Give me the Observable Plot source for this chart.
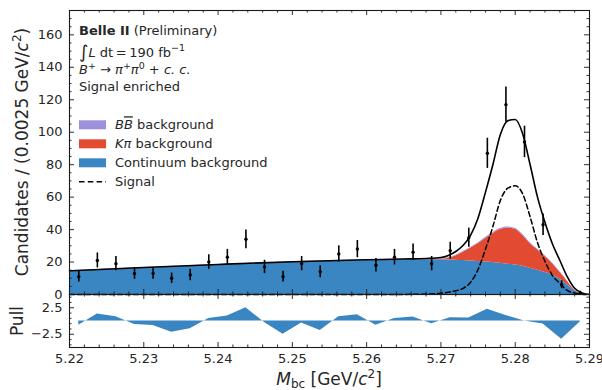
<!DOCTYPE html>
<html><head><meta charset="utf-8">
<script src="https://cdn.jsdelivr.net/npm/d3@7"></script>
<script src="https://cdn.jsdelivr.net/npm/@observablehq/plot@0.6"></script>
<style>
body{margin:0;background:#fff;}
#chart{width:602px;height:390px;}
#chart svg{display:block;overflow:visible;}
</style></head><body><div id="chart"></div>
<script>
// ---- data ----
const binCenters = [5.22125,5.22375,5.22625,5.22875,5.23125,5.23375,5.23625,5.23875,5.24125,5.24375,5.24625,5.24875,5.25125,5.25375,5.25625,5.25875,5.26125,5.26375,5.26625,5.26875,5.27125,5.27375,5.27625,5.27875,5.28125,5.28375,5.28625,5.28875];
const counts = [11,21,19,13,13,10,12,20,23,34,17,11,19,14,25,28,18,23,26,19,27,35,87,117,94,43,6,1];
const countErrors = [3.3,4.6,4.4,3.6,3.6,3.2,3.5,4.5,4.8,5.8,4.1,3.3,4.4,3.7,5.0,5.3,4.2,4.8,5.1,4.4,5.2,5.9,9.3,10.8,9.7,6.6,2.4,1.0];
const pulls = [-0.8,1.3,0.8,-0.65,-0.85,-2.1,-1.45,0.45,0.95,2.5,-0.3,-2.5,-0.4,-1.8,0.8,1.2,-0.8,0.45,0.75,-0.5,0.6,0.55,2.2,1.05,0.0,-0.55,-3.45,-0.2];

const curveX   = [5.220,5.230,5.240,5.250,5.260,5.265,5.268,5.270,5.271,5.272,5.273,5.274,5.275,5.276,5.277,5.278,5.279,5.280,5.281,5.282,5.283,5.284,5.285,5.286,5.287,5.288,5.289,5.290];
const continuum= [14.2,16.2,18.1,19.8,21.0,21.4,21.4,21.3,21.2,21.1,20.9,20.7,20.4,20.1,19.7,19.2,18.7,18.2,17.4,16.2,14.9,13.6,12.2,9.6,6.2,2.3,0.5,0];
const kpiBkg   = [0,0,0,0,0,0,0.1,0.3,1.1,2.7,5.1,7.8,10.8,14.4,17.8,20.8,22.3,22.0,19.1,15.3,12.6,9.9,6.8,4.2,2.0,0.5,0.2,0];
const bbBkg    = [0.4,0.4,0.4,0.4,0.4,0.4,0.4,0.4,0.4,0.4,0.5,0.5,0.5,0.6,0.6,0.6,0.6,0.6,0.6,0.6,0.5,0.5,0.5,0.4,0.3,0.2,0.1,0];
const signal   = [0,0,0,0,0,0.05,0.3,0.8,1.4,2.3,3.8,7.6,15.5,28,42,58,65.5,67,62,48,32,20.5,11.8,6.9,2.5,0.8,0.2,0];

const xTicks = [5.22,5.23,5.24,5.25,5.26,5.27,5.28,5.29];
const yTicksMain = [0,20,40,60,80,100,120,140,160];
const pullTicks = [-2.5,2.5];
const pullMinor = [-4.5,-3.5,-1.5,-0.5,0.5,1.5,3.5,4.5];

// ---- styles / layout ----
const BLUE = "#3a86c2", RED = "#e24b32", PURPLE = "#9d90dc", INK = "#1a1a1a", TXT = "#262626";
const W = 602, ML = 69, MR = 13, PW = W - ML - MR;
const MAIN_H = 294, MAIN_T = 10, PULL_H = 96, PULL_B = 43;
const FONT = "DejaVu Sans";

const points = binCenters.map((x, i) => ({x, n: counts[i], e: countErrors[i], pull: pulls[i]}));
const curves = curveX.map((x, i) => {
  const c = continuum[i], k = kpiBkg[i], b = bbBkg[i], s = signal[i];
  return {x, c, ck: c + k, ckb: c + k + b, s, total: c + k + b + s};
});
const xMinor = d3.range(5220, 5291, 2).filter(v => v % 10 !== 0).map(v => v / 1000);
const yMinorMain = d3.range(0, 176, 5).filter(v => v % 20 !== 0);
const fmtMinus = d => d < 0 ? "\u2212" + (-d) : String(d);

function inTicksX(vals, len, plotH) {
  return [
    Plot.tickX(vals, {x: d => d, insetTop: plotH - len, stroke: INK, strokeWidth: 0.9}),
    Plot.tickX(vals, {x: d => d, insetBottom: plotH - len, stroke: INK, strokeWidth: 0.9})
  ];
}
function inTicksY(vals, len) {
  return [
    Plot.tickY(vals, {y: d => d, insetRight: PW - len, stroke: INK, strokeWidth: 0.9}),
    Plot.tickY(vals, {y: d => d, insetLeft: PW - len, stroke: INK, strokeWidth: 0.9})
  ];
}
const curve = "monotone-x";
const mainPH = MAIN_H - MAIN_T;
const pullPH = PULL_H - PULL_B;

const main = Plot.plot({
  width: W, height: MAIN_H, marginLeft: ML, marginRight: MR, marginTop: MAIN_T, marginBottom: 0,
  style: {fontFamily: FONT, fontSize: "13px", color: TXT, background: "white", overflow: "visible"},
  x: {domain: [5.22, 5.29], axis: null},
  y: {domain: [0, 175], axis: null},
  marks: [
    Plot.areaY(curves, {x: "x", y1: 0, y2: "c", fill: BLUE, curve}),
    Plot.areaY(curves, {x: "x", y1: "c", y2: "ck", fill: RED, curve}),
    Plot.areaY(curves, {x: "x", y1: "ck", y2: "ckb", fill: PURPLE, curve}),
    Plot.line(curves, {x: "x", y: "s", stroke: "black", strokeWidth: 1.5, strokeDasharray: "5,3", curve}),
    Plot.line(curves, {x: "x", y: "total", stroke: "black", strokeWidth: 1.6, curve}),
    Plot.ruleX(points, {x: "x", y1: d => d.n - d.e, y2: d => d.n + d.e, stroke: "black", strokeWidth: 1.6}),
    Plot.dot(points, {x: "x", y: "n", r: 1.7, fill: "black"}),
    Plot.axisY(yTicksMain, {anchor: "left", tickSize: 0, tickPadding: 7, label: null, fill: TXT}),
    ...inTicksX(xTicks, 5, mainPH),
    ...inTicksX(xMinor, 2.5, mainPH),
    ...inTicksY(yTicksMain, 5),
    ...inTicksY(yMinorMain, 2.5),
    Plot.frame({stroke: INK, strokeWidth: 1.1})
  ]
});

const pull = Plot.plot({
  width: W, height: PULL_H, marginLeft: ML, marginRight: MR, marginTop: 0, marginBottom: PULL_B,
  style: {fontFamily: FONT, fontSize: "13px", color: TXT, background: "white", overflow: "visible"},
  x: {domain: [5.22, 5.29], axis: null},
  y: {domain: [-5, 5], axis: null},
  marks: [
    Plot.areaY(points, {x: "x", y1: 0, y2: "pull", fill: BLUE}),
    Plot.axisY(pullTicks, {anchor: "left", tickSize: 0, tickPadding: 7, label: null, tickFormat: fmtMinus, fill: TXT}),
    Plot.axisX(xTicks, {anchor: "bottom", tickSize: 0, tickPadding: 6, label: null, tickFormat: d => d.toFixed(2), fill: TXT}),
    ...inTicksX(xTicks, 5, pullPH),
    ...inTicksX(xMinor, 2.5, pullPH),
    ...inTicksY(pullTicks, 5),
    ...inTicksY(pullMinor, 2.5),
    Plot.frame({stroke: INK, strokeWidth: 1.1})
  ]
});

const chart = document.getElementById("chart");
chart.appendChild(main);
chart.appendChild(pull);

// ---- text annotations ----
const sm = d3.select(main);
function txt(sel, x, y, size) {
  return sel.append("text").attr("x", x).attr("y", y).attr("fill", TXT).attr("text-anchor", "start")
    .style("font-family", FONT).style("font-size", size + "px");
}
// y label
const yl = sm.append("text").attr("transform", "translate(28,152) rotate(-90)").attr("text-anchor", "middle")
  .attr("fill", TXT).style("font-family", FONT).style("font-size", "17px");
yl.append("tspan").text("Candidates / (0.0025 GeV/");
yl.append("tspan").attr("font-style", "italic").text("c");
yl.append("tspan").attr("font-size", "12px").attr("dy", -7).text("2");
yl.append("tspan").attr("dy", 7).text(")");

// header text
const h1 = txt(sm, 79, 35.3, 13);
h1.append("tspan").attr("font-weight", "bold").text("Belle II");
h1.append("tspan").text(" (Preliminary)");
const h2 = txt(sm, 79, 56.5, 13);
h2.append("tspan").attr("font-size", "18px").attr("dy", 1).text("\u222B");
h2.append("tspan").attr("font-style", "italic").attr("dy", -1).text("L");
h2.append("tspan").text(" dt\u2009=\u2009190 fb");
h2.append("tspan").attr("font-size", "9.5px").attr("dy", -6).text("\u22121");
const h3 = txt(sm, 79, 74, 13);
h3.append("tspan").attr("font-style", "italic").text("B");
h3.append("tspan").attr("font-size", "9.5px").attr("dy", -5).text("+");
h3.append("tspan").attr("dy", 5).text(" \u2192 ");
h3.append("tspan").attr("font-style", "italic").text("\u03C0");
h3.append("tspan").attr("font-size", "9.5px").attr("dy", -5).text("+");
h3.append("tspan").attr("font-style", "italic").attr("dy", 5).text("\u03C0");
h3.append("tspan").attr("font-size", "9.5px").attr("dy", -5).text("0");
h3.append("tspan").attr("dy", 5).text(" + ");
h3.append("tspan").attr("font-style", "italic").text("c. c.");
txt(sm, 79, 90.5, 13).text("Signal enriched");

// legend
const legendRows = [
  {base: 129.3, kind: "rect", color: PURPLE},
  {base: 148.3, kind: "rect", color: RED},
  {base: 167.3, kind: "rect", color: BLUE},
  {base: 185.7, kind: "dash"}
];
legendRows.forEach(r => {
  if (r.kind === "rect") {
    sm.append("rect").attr("x", 79).attr("y", r.base - 9).attr("width", 27).attr("height", 9).attr("fill", r.color);
  } else {
    sm.append("line").attr("x1", 79).attr("x2", 106).attr("y1", r.base - 4).attr("y2", r.base - 4)
      .attr("stroke", "black").attr("stroke-width", 1.5).attr("stroke-dasharray", "5.5,3.3");
  }
});
const l1 = txt(sm, 115, 129.3, 13);
l1.append("tspan").attr("font-style", "italic").text("B");
l1.append("tspan").attr("font-style", "italic").style("text-decoration", "overline").text("B");
l1.append("tspan").text(" background");
const l2 = txt(sm, 115, 148.3, 13);
l2.append("tspan").attr("font-style", "italic").text("K\u03C0");
l2.append("tspan").text(" background");
txt(sm, 115, 167.3, 13).text("Continuum background");
txt(sm, 115, 185.7, 13).text("Signal");

// pull panel labels
const sp = d3.select(pull);
sp.append("text").attr("transform", "translate(23,27) rotate(-90)").attr("text-anchor", "middle")
  .attr("fill", TXT).style("font-family", FONT).style("font-size", "17px").text("Pull");
const xl = sp.append("text").attr("x", 329).attr("y", 91).attr("text-anchor", "middle")
  .attr("fill", TXT).style("font-family", FONT).style("font-size", "17px");
xl.append("tspan").attr("font-style", "italic").text("M");
xl.append("tspan").attr("font-size", "12px").attr("dy", 3).text("bc");
xl.append("tspan").attr("dy", -3).text(" [GeV/");
xl.append("tspan").attr("font-style", "italic").text("c");
xl.append("tspan").attr("font-size", "12px").attr("dy", -7).text("2");
xl.append("tspan").attr("dy", 7).text("]");
</script></body></html>
